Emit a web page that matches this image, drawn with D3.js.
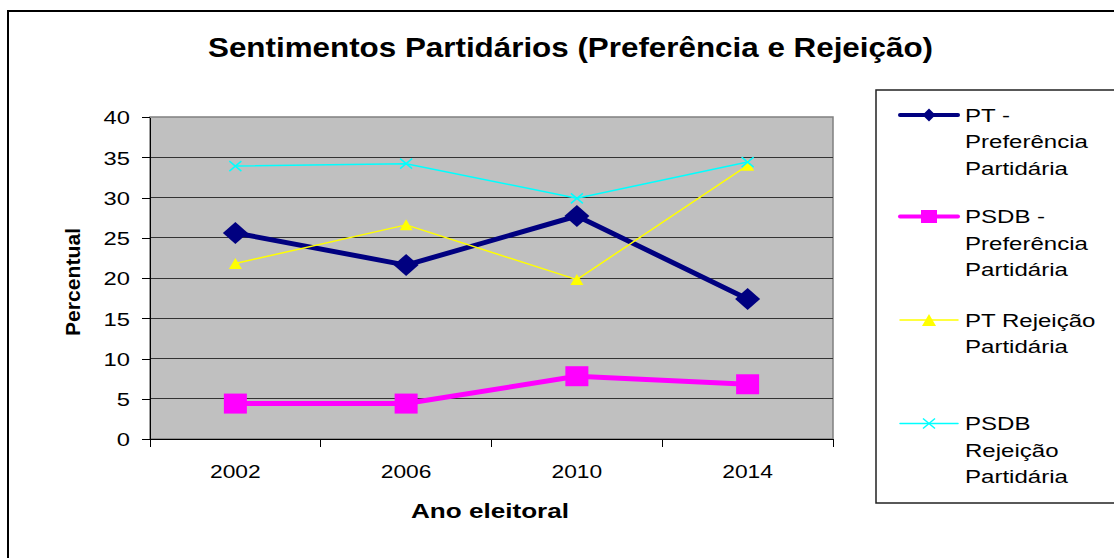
<!DOCTYPE html>
<html>
<head>
<meta charset="utf-8">
<title>Sentimentos Partidários</title>
<script src="https://cdn.jsdelivr.net/npm/d3@7"></script>
<style>
body { margin: 0; background: #fff; }
svg { display: block; font-family: "Liberation Sans", Arial, sans-serif; }
.axis path, .axis line { stroke: #000; shape-rendering: crispEdges; }
.grid line { stroke: #333; shape-rendering: crispEdges; }
</style>
</head>
<body>
<script>
// data
var years = ["2002", "2006", "2010", "2014"];
var ptPref = [25.6, 21.6, 27.7, 17.4];
var psdbPref = [4.4, 4.4, 7.8, 6.8];
var ptRej = [21.8, 26.6, 19.8, 34.0];
var psdbRej = [33.9, 34.2, 29.9, 34.4];
var yTicks = [0, 5, 10, 15, 20, 25, 30, 35, 40];

var seriesNames = [
  ["PT -", "Preferência", "Partidária"],
  ["PSDB -", "Preferência", "Partidária"],
  ["PT Rejeição", "Partidária"],
  ["PSDB", "Rejeição", "Partidária"]
];

var W = 1114, H = 558;
var plot = {left: 150, right: 833, top: 117, bottom: 439};

// style per series
var styles = [
  {values: ptPref, color: "#000080", width: 5, mark: "diamond", mw: 25, mh: 22, lw: 4, lmw: 13, lmh: 13},
  {values: psdbPref, color: "#ff00ff", width: 5, mark: "square", mw: 23, mh: 20, lw: 4, lmw: 16, lmh: 13},
  {values: ptRej, color: "#ffff00", width: 1.5, mark: "triangle", mw: 13, mh: 11, lw: 1.5, lmw: 14, lmh: 12},
  {values: psdbRej, color: "#00ffff", width: 1.5, mark: "x", mw: 12, mh: 10, lw: 1.5, lmw: 12, lmh: 10}
];

function markerPath(type, w, h) {
  var a = w / 2, b = h / 2;
  if (type == "diamond") return "M0," + (-b) + "L" + a + ",0L0," + b + "L" + (-a) + ",0Z";
  if (type == "square") return "M" + (-a) + "," + (-b) + "H" + a + "V" + b + "H" + (-a) + "Z";
  if (type == "triangle") return "M0," + (-b) + "L" + a + "," + b + "H" + (-a) + "Z";
  return "M" + (-a) + "," + (-b) + "L" + a + "," + b + "M" + a + "," + (-b) + "L" + (-a) + "," + b;
}

var svg = d3.select("body").append("svg")
    .attr("width", W)
    .attr("height", H);

// outer frame (runs off right and bottom edges)
svg.append("rect")
    .attr("x", 8).attr("y", 11)
    .attr("width", W + 20).attr("height", H + 20)
    .attr("fill", "#fff")
    .attr("stroke", "#000")
    .attr("stroke-width", 2);

var x = d3.scaleBand()
    .domain(years)
    .range([plot.left, plot.right]);

var y = d3.scaleLinear()
    .domain([0, 40])
    .range([plot.bottom, plot.top]);

// plot background
svg.append("rect")
    .attr("x", plot.left).attr("y", plot.top)
    .attr("width", plot.right - plot.left)
    .attr("height", plot.bottom - plot.top)
    .attr("fill", "#c0c0c0")
    .attr("stroke", "#808080")
    .attr("stroke-width", 1.5);

// gridlines
svg.append("g")
    .attr("class", "grid")
  .selectAll("line")
    .data(yTicks.filter(function(d) { return d > 0 && d < 40; }))
  .enter().append("line")
    .attr("x1", plot.left).attr("x2", plot.right)
    .attr("y1", function(d) { return y(d); })
    .attr("y2", function(d) { return y(d); });

// y axis
var yAxis = svg.append("g")
    .attr("class", "axis")
    .attr("transform", "translate(" + plot.left + ",0)")
    .call(d3.axisLeft(y).tickValues(yTicks).tickSize(8).tickSizeOuter(0));
yAxis.select(".domain").attr("stroke-width", 1.5);
yAxis.selectAll("text")
    .attr("font-size", 19)
    .attr("font-family", "Liberation Sans, Arial, sans-serif")
    .attr("fill", "#000")
    .attr("x", -16)
    .attr("dy", "0.36em")
    .attr("transform", "scale(1.25,1)");

// x axis
var xAxis = svg.append("g")
    .attr("class", "axis")
    .attr("transform", "translate(0," + plot.bottom + ")")
    .call(d3.axisBottom(x).tickSize(0).tickSizeOuter(0));
xAxis.select(".domain").attr("stroke-width", 1.5);
xAxis.selectAll("text")
    .attr("font-size", 19)
    .attr("font-family", "Liberation Sans, Arial, sans-serif")
    .attr("fill", "#000")
    .attr("y", 32)
    .attr("dy", "0.36em")
    .attr("transform", "scale(1.2,1)");

// category boundary ticks
var bounds = years.map(function(d) { return x(d); }).concat([x.range()[1]]);
xAxis.selectAll(".bound")
    .data(bounds)
  .enter().append("line")
    .attr("class", "bound")
    .attr("x1", function(d) { return d; })
    .attr("x2", function(d) { return d; })
    .attr("y1", 0).attr("y2", 8)
    .attr("stroke", "#000");

// lines and markers
var line = d3.line()
    .x(function(d, i) { return x(years[i]) + x.bandwidth() / 2; })
    .y(function(d) { return y(d); });

styles.forEach(function(s) {
  var g = svg.append("g");
  g.append("path")
      .datum(s.values)
      .attr("d", line)
      .attr("fill", "none")
      .attr("stroke", s.color)
      .attr("stroke-width", s.width)
      .attr("stroke-linejoin", "round");
  g.selectAll(".mk")
      .data(s.values)
    .enter().append("path")
      .attr("class", "mk")
      .attr("transform", function(d, i) {
        return "translate(" + (x(years[i]) + x.bandwidth() / 2) + "," + y(d) + ")";
      })
      .attr("d", markerPath(s.mark, s.mw, s.mh))
      .attr("fill", s.mark == "x" ? "none" : s.color)
      .attr("stroke", s.mark == "x" ? s.color : "none")
      .attr("stroke-width", 1.5);
});

// title
svg.append("text")
    .attr("x", 208).attr("y", 57)
    .attr("font-size", 28)
    .attr("font-weight", "bold")
    .attr("textLength", 725)
    .attr("lengthAdjust", "spacingAndGlyphs")
    .text("Sentimentos Partidários (Preferência e Rejeição)");

// axis titles
svg.append("text")
    .attr("x", 411).attr("y", 518)
    .attr("font-size", 20)
    .attr("font-weight", "bold")
    .attr("textLength", 158)
    .attr("lengthAdjust", "spacingAndGlyphs")
    .text("Ano eleitoral");

svg.append("text")
    .attr("transform", "translate(80,282) rotate(-90)")
    .attr("text-anchor", "middle")
    .attr("font-size", 20)
    .attr("font-weight", "bold")
    .attr("textLength", 108)
    .attr("lengthAdjust", "spacingAndGlyphs")
    .text("Percentual");

// legend
var legend = svg.append("g");
legend.append("rect")
    .attr("x", 876).attr("y", 90)
    .attr("width", 300).attr("height", 413)
    .attr("fill", "#fff")
    .attr("stroke", "#222")
    .attr("stroke-width", 1.5);

var itemY = [115, 216.5, 320, 423.5];
var lineH = 26.5;

styles.forEach(function(s, i) {
  var g = legend.append("g")
      .attr("transform", "translate(0," + itemY[i] + ")");
  g.append("line")
      .attr("x1", 900).attr("x2", 958)
      .attr("stroke", s.color)
      .attr("stroke-width", s.lw)
      .attr("stroke-linecap", "round");
  g.append("path")
      .attr("transform", "translate(929,0)")
      .attr("d", markerPath(s.mark, s.lmw, s.lmh))
      .attr("fill", s.mark == "x" ? "none" : s.color)
      .attr("stroke", s.mark == "x" ? s.color : "none")
      .attr("stroke-width", 1.5);
  g.selectAll("text")
      .data(seriesNames[i])
    .enter().append("text")
      .attr("transform", function(d, j) { return "translate(965," + (j * lineH) + ") scale(1.3,1)"; })
      .attr("dy", "0.36em")
      .attr("font-size", 18.5)
      .text(function(d) { return d; });
});
</script>
</body>
</html>
